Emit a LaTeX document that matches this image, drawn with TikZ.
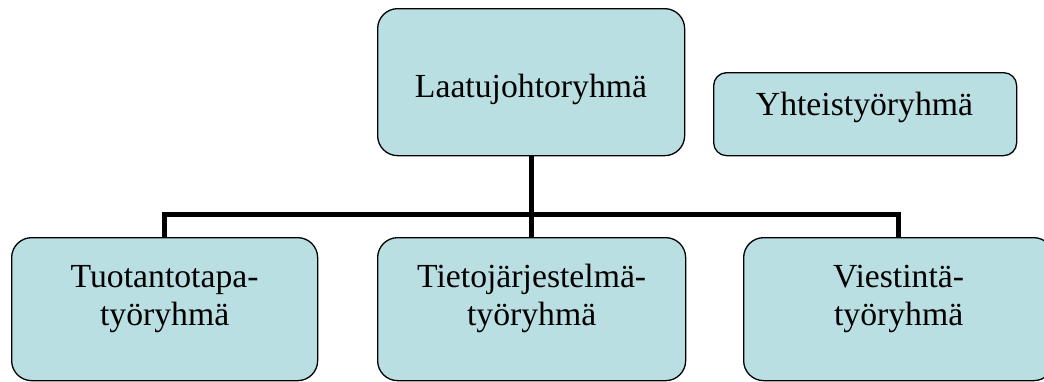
\documentclass[tikz,border=0pt]{standalone}
\usepackage{fontspec}
\setmainfont{Liberation Serif}
\definecolor{boxfill}{RGB}{186,223,227}
\begin{document}
\begin{tikzpicture}[x=1pt,y=-1pt,
  box/.style={draw=black, line width=1.3pt, fill=boxfill, rounded corners=20pt, inner sep=0pt},
  txt/.style={font=\fontsize{33.7pt}{38pt}\selectfont, align=center, inner sep=0pt},
  conn/.style={draw=black, line width=5pt}]
\useasboundingbox (0,0) rectangle (1044,381);
\clip (0,0) rectangle (1044,381);
% boxes
\node[box, minimum width=307pt, minimum height=147pt, anchor=north west] (top) at (377,8) {};
\node[txt, anchor=base] (toptxt) at (531,97) {Laatujohtoryhmä};
\node[box, rounded corners=13pt, minimum width=303pt, minimum height=83pt, anchor=north west] (yht) at (713,72) {};
\node[txt, anchor=base] (yhttxt) at (864.5,115) {Yhteistyöryhmä};
\node[box, minimum width=306pt, minimum height=143pt, anchor=north west] (b1) at (11,237) {};
\node[box, minimum width=308pt, minimum height=143pt, anchor=north west] (b2) at (377,237) {};
\node[box, minimum width=310pt, minimum height=143pt, anchor=north west] (b3) at (743,237) {};
\node[txt] (t1) at ([yshift=10.5pt]b1.center) {Tuotantotapa-\\työryhmä};
\node[txt] (t2) at ([yshift=10.5pt]b2.center) {Tietojärjestelmä-\\työryhmä};
\node[txt] (t3) at ([yshift=10.5pt]b3.center) {Viestintä-\\työryhmä};
% connectors
\coordinate (bus) at (0,214);
\draw[conn] (top.south) -- (top.south |- bus);
\draw[conn, line join=miter] (b1.north) -- (b1.north |- bus) -- (b3.north |- bus) -- (b3.north);
\draw[conn] (b2.north |- bus) -- (b2.north);
\end{tikzpicture}
\end{document}
